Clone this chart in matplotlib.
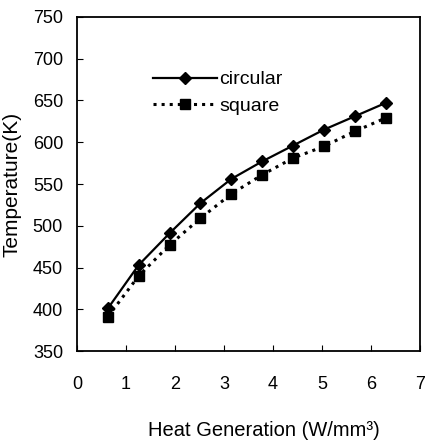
import matplotlib
matplotlib.use('Agg')
import matplotlib.pyplot as plt

# heat generation (W/mm^3) and peak temperature (K)
heat = [0.63, 1.26, 1.89, 2.52, 3.15, 3.78, 4.41, 5.04, 5.67, 6.30]
temp_circular = [401, 453, 491, 527, 556, 577, 596, 615, 631, 647]
temp_square = [391, 440, 477, 509, 538, 561, 581, 595, 613, 629]

plt.rcParams['font.family'] = ['Liberation Sans', 'DejaVu Sans']

fig = plt.figure(figsize=(4.25, 4.45), dpi=100)
ax = fig.add_axes([0.181, 0.211, 0.807, 0.751])

ax.plot(heat, temp_circular, '-', color='black', lw=1.6, marker='D', ms=6, label='circular')
ax.plot(heat, temp_square, ':', color='black', lw=2.2, marker='s', ms=7, label='square')

ax.set_xlim(0, 7)
ax.set_ylim(350, 750)
ax.set_xticks(range(0, 8))
ax.set_yticks(range(350, 751, 50))
ax.tick_params(direction='in', length=4, labelsize=13)
ax.tick_params(axis='x', pad=18)
ax.tick_params(axis='y', pad=10)
for s in ax.spines.values():
    s.set_linewidth(1.3)

ax.set_xlabel('Heat Generation (W/mm³)', fontsize=14.5, labelpad=20)
ax.xaxis.label.set_x(0.545)
ax.set_ylabel('Temperature(K)', fontsize=15, labelpad=8)

ax.legend(loc='upper left', bbox_to_anchor=(0.2, 0.862), frameon=False, fontsize=14,
          handlelength=3.3, handletextpad=0.1, labelspacing=0.45, borderaxespad=0)

fig.savefig('out.png', dpi=100)
